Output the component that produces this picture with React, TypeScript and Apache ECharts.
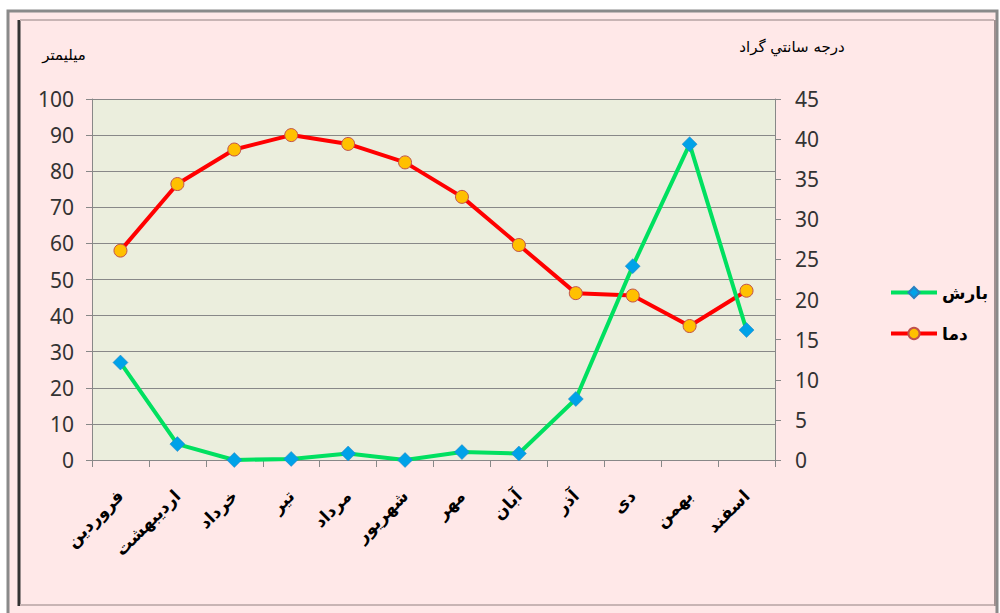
import React, { useEffect, useRef } from "react";
import * as echarts from "echarts";

const months = ["فروردین", "اردیبهشت", "خرداد", "تیر", "مرداد", "شهریور", "مهر", "آبان", "آذر", "دی", "بهمن", "اسفند"];
const rainfall = [27, 4.4, 0, 0.3, 1.8, 0, 2.2, 1.8, 16.9, 53.7, 87.5, 36];
const temperature = [26.1, 34.4, 38.7, 40.5, 39.4, 37.1, 32.8, 26.8, 20.8, 20.5, 16.7, 21.1];
const leftTitle = "میلیمتر";
const rightTitle = "درجه سانتي گراد";
const rainName = "بارش";
const tempName = "دما";

export default function App() {
  const ref = useRef<HTMLDivElement>(null);
  useEffect(() => {
    if (!ref.current) return;
    const chart = echarts.init(ref.current, null, { renderer: "svg" });
    const numFont = "Noto Sans";
    const faFont = "DejaVu Sans";
    chart.setOption({
      animation: false,
      backgroundColor: "#ffffff",
      graphic: [
        { type: "rect", z: -10, silent: true, shape: { x: 8, y: 11, width: 989, height: 620 }, style: { fill: "#FFE8E8", stroke: "#8a8a8a", lineWidth: 3 } },
        { type: "line", z: -9, silent: true, shape: { x1: 19, y1: 20, x2: 19, y2: 606 }, style: { stroke: "#333333", lineWidth: 3 } },
        { type: "line", z: -9, silent: true, shape: { x1: 20, y1: 20, x2: 994, y2: 20 }, style: { stroke: "#c8b4b4", lineWidth: 2 } },
        { type: "line", z: -9, silent: true, shape: { x1: 20, y1: 605, x2: 995, y2: 605 }, style: { stroke: "#c8b4b4", lineWidth: 2 } },
        { type: "line", z: -9, silent: true, shape: { x1: 995, y1: 20, x2: 995, y2: 606 }, style: { stroke: "#a09090", lineWidth: 2 } },
        { type: "text", x: 64, y: 55, style: { text: leftTitle, fontSize: 15, fontFamily: faFont, fill: "#000", align: "center", verticalAlign: "middle" } },
        { type: "text", x: 792, y: 47, style: { text: rightTitle, fontSize: 15, fontFamily: faFont, fill: "#000", align: "center", verticalAlign: "middle" } },
      ],
      grid: { left: 92, right: 225, top: 99, bottom: 153, show: true, backgroundColor: "#EBEEDD", borderWidth: 0 },
      legend: {
        orient: "vertical",
        left: 884,
        top: 279,
        itemWidth: 46,
        itemHeight: 14,
        itemGap: 24,
        lineStyle: { width: 4 },
        textStyle: { fontSize: 17, fontWeight: "bold", fontFamily: faFont, color: "#000" },
        data: [rainName, tempName],
      },
      xAxis: {
        type: "category",
        data: months,
        boundaryGap: true,
        axisLine: { lineStyle: { color: "#888", width: 1 } },
        axisTick: { show: true, length: 7, lineStyle: { color: "#888" } },
        axisLabel: { interval: 0, rotate: 45, margin: 33, fontSize: 17, fontWeight: "bold", fontFamily: faFont, color: "#000" },
      },
      yAxis: [
        {
          type: "value",
          min: 0,
          max: 100,
          interval: 10,
          axisLine: { show: true, lineStyle: { color: "#888" } },
          axisTick: { show: true, length: 6, lineStyle: { color: "#888" } },
          splitLine: { show: true, lineStyle: { color: "#888", width: 1 } },
          axisLabel: { fontSize: 21, fontFamily: numFont, color: "#333", margin: 18 },
        },
        {
          type: "value",
          min: 0,
          max: 45,
          interval: 5,
          position: "right",
          axisLine: { show: true, lineStyle: { color: "#888" } },
          axisTick: { show: true, length: 6, lineStyle: { color: "#888" } },
          splitLine: { show: false },
          axisLabel: { fontSize: 21, fontFamily: numFont, color: "#333", margin: 20 },
        },
      ],
      series: [
        {
          name: rainName,
          type: "line",
          yAxisIndex: 0,
          data: rainfall,
          smooth: false,
          lineStyle: { color: "#00E060", width: 4 },
          symbol: "diamond",
          symbolSize: 15,
          itemStyle: { color: "#00A2E8", borderColor: "#2a7fc0", borderWidth: 0.5 },
          z: 3,
        },
        {
          name: tempName,
          type: "line",
          yAxisIndex: 1,
          data: temperature,
          smooth: false,
          lineStyle: { color: "#FF0000", width: 4 },
          symbol: "circle",
          symbolSize: 13,
          itemStyle: { color: "#FFC000", borderColor: "#C0504D", borderWidth: 1 },
          z: 2,
        },
      ],
    });
    return () => chart.dispose();
  }, []);
  return <div ref={ref} style={{ position: "fixed", left: 0, top: 0, width: 1000, height: 613 }} />;
}
